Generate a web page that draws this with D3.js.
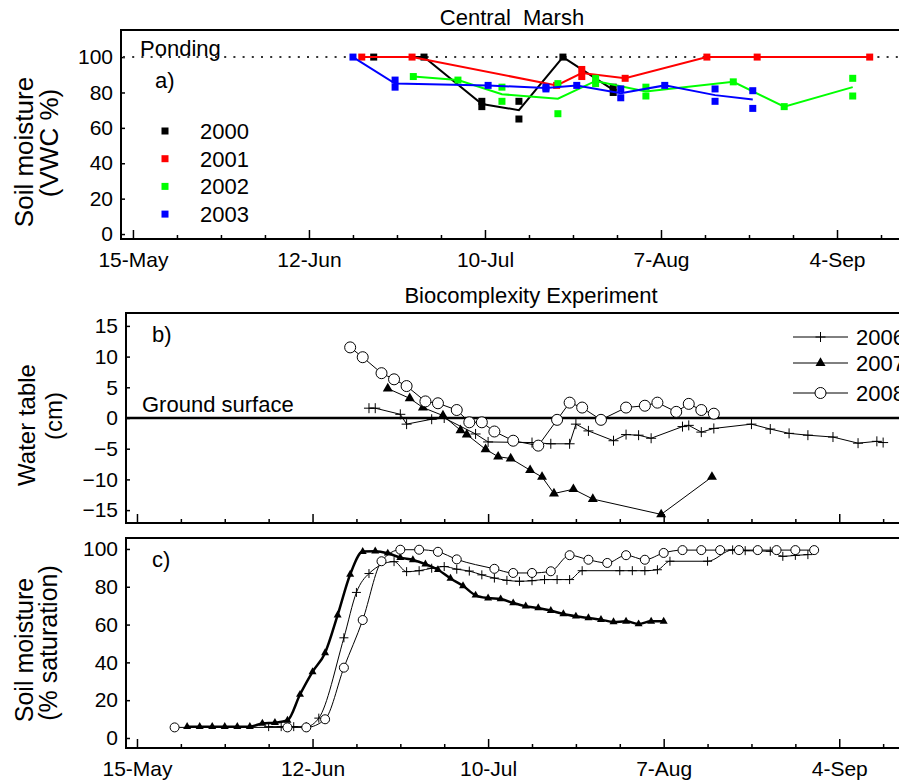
<!DOCTYPE html>
<html>
<head>
<meta charset="utf-8">
<script src="https://cdn.jsdelivr.net/npm/d3@7"></script>
<style>
    body { margin: 0; overflow: hidden; background: #fff; }
    svg { display: block; font-family: "Liberation Sans", Arial, sans-serif; }
</style>
</head>
<body>
<div id="chart"></div>
<script>
// days counted from 15-May
var xTickDays = [0, 28, 56, 84, 112];
var xTickLabels = ['15-May', '12-Jun', '10-Jul', '7-Aug', '4-Sep'];
var minorTickDays = [7, 14, 21, 35, 42, 49, 63, 70, 77, 91, 98, 105, 119];

// a) Central Marsh, soil moisture (VWC %), [day, value], replicates share a day
var years_a = ['2000', '2001', '2002', '2003'];
var colors_a = ['#000000', '#ff0000', '#00ff00', '#0000ff'];
var vwc2000 = [[38.3,100],[46.3,100],[55.5,75],[55.5,72],[61.4,75],[61.4,65],[68.4,100],[76.4,83],[76.4,80]];
var vwc2001 = [[36.4,100],[44.4,100],[67.4,84],[71.4,93],[71.4,89],[78.3,88],[91.3,100],[99.3,100],[117.2,100]];
var vwc2002 = [[44.6,89],[51.7,87],[58.7,83],[58.7,75],[67.6,85],[67.6,68],[73.6,88],[73.6,85],[81.6,83],[81.6,78],
               [95.5,86],[103.6,72],[114.5,88],[114.5,78]];
var vwc2003 = [[35,100],[41.7,87],[41.7,83],[56.5,84],[65.7,83],[65.7,82],[70.6,84],[77.6,82],[77.6,77],[84.6,84],
               [92.6,82],[92.6,75],[98.6,81],[98.6,71]];
var yTicks_a = [0, 20, 40, 60, 80, 100];

// b) Biocomplexity experiment, water table (cm)
var years_bc = ['2006', '2007', '2008'];
var wt2006 = [[37,1.6],[38,1.6],[42,0.6],[43,-1.0],[47,-0.2],[49,0.0],[54,-2.6],[56,-3.9],[63,-4.0],[66,-4.2],[69,-4.2],
              [70,-1.0],[72,-2.1],[76,-3.7],[78,-2.7],[80,-2.8],[82,-3.3],[87,-1.4],[88,-1.2],[90,-2.3],[92,-1.7],
              [98,-1.0],[101,-1.8],[104,-2.5],[107,-2.8],[111,-3.1],[115,-4.1],[118,-3.8],[119,-4.0]];
var wt2007 = [[40,4.8],[43.5,3.2],[45.6,1.7],[48.8,0.4],[51.6,-2.0],[52.6,-2.7],[55.6,-5.1],[57.6,-6.3],[59.6,-6.6],
              [62.7,-8.5],[64.6,-9.6],[66.5,-12.3],[69.6,-11.6],[72.7,-13.2],[83.6,-15.7],[91.7,-9.6]];
var wt2008 = [[34,11.5],[36,9.9],[39,7.3],[41,6.3],[43,5.2],[46,2.7],[48,2.4],[51,1.3],[53,-0.7],[55,-0.7],[57,-2.2],
              [60,-3.7],[64,-4.5],[67,-0.3],[69,2.5],[71,1.7],[74,-0.3],[78,1.7],[81,2.0],[83,2.5],[86,1.0],[88,2.3],
              [90,1.3],[92,0.7]];
var yTicks_b = [-15, -10, -5, 0, 5, 10, 15];

// c) soil moisture (% saturation)
var sm2006 = [[21,6],[23,6],[25,6],[27,6],[29,10.5],[33,53],[35,77],[37,87],[41,93.3],[43,88],[45,88.5],[47,89.8],
              [49,90.7],[51,89.3],[53,88.3],[55,86.3],[57,84.6],[59,83.4],[61,82.9],[63,83.2],[65,83.8],[67,83.8],
              [69,83.8],[71,88.5],[77,88.5],[79,88.5],[81,88.5],[83,89],[85,93.5],[91,93.5],[95,99.5],[97,99.1],
              [101,98.8],[103,96.1],[105,96.6],[107,97]];
var sm2007 = [[8,6],[10,6],[12,6],[14,6],[16,6],[18,6],[20,7.7],[22,8.1],[24,9.3],[26,23],[28,35],[30,45],[32,65],
              [34,86.5],[36,98.6],[38,98.8],[40,97.7],[42,95.4],[44,94.2],[46,92],[48,89],[50,84.4],[52,80.5],
              [54,75.5],[56,74],[58,73.5],[60,71.4],[62,69.7],[64,68.8],[66,67.4],[68,65.6],[70,64.4],[72,63.5],
              [74,62.6],[76,61.4],[78,61.7],[80,60.3],[82,61.7],[84,61.7]];
var sm2008 = [[6,5.6],[24,5.6],[27,5.6],[30,9.9],[33,37.2],[36,62.4],[39,93.5],[42,99.6],[45,99.6],[48,98.5],
              [51,94.5],[57,89.5],[60,87.3],[63,87.3],[66,88.2],[69,96.7],[72,94.3],[75,92.6],[78,96.7],[81,94.3],
              [84,97.9],[87,99.4],[90,99.4],[93,99.4],[96,99.4],[99,99.4],[102,99.4],[105,99.4],[108,99.4]];
var yTicks_c = [0, 20, 40, 60, 80, 100];

var svgWidth = 940, svgHeight = 780;
var startMs = Date.UTC(2006, 4, 15);
function dayDate(d) { return new Date(startMs + d * 864e5); }

var svg = d3.select('#chart').append('svg')
    .attr('width', svgWidth)
    .attr('height', svgHeight);

function drawFrame(x, y, opts) {
    var g = svg.append('g');
    var left = x.range()[0], top = y.range()[1], bottom = y.range()[0];

    // minor and major ticks point inward
    g.append('g')
        .attr('transform', 'translate(0,' + bottom + ')')
        .call(d3.axisBottom(x).tickValues(minorTickDays.map(dayDate)).tickSize(-4).tickFormat(''))
        .call(function (a) { a.select('.domain').remove(); })
        .selectAll('line').attr('stroke-width', 1.5);

    var major = g.append('g')
        .attr('transform', 'translate(0,' + bottom + ')')
        .call(d3.axisBottom(x).tickValues(xTickDays.map(dayDate)).tickSize(-9).tickPadding(13)
            .tickFormat(function (d, i) { return opts.xLabels ? xTickLabels[i] : ''; }))
        .call(function (a) { a.select('.domain').remove(); });
    major.selectAll('line').attr('stroke-width', 1.5);
    major.selectAll('text').attr('font-size', 21).attr('fill', '#000').attr('font-family', null);

    var yax = g.append('g')
        .attr('transform', 'translate(' + left + ',0)')
        .call(d3.axisLeft(y).tickValues(opts.yTicks).tickSize(-4).tickPadding(8))
        .call(function (a) { a.select('.domain').remove(); });
    yax.selectAll('line').attr('stroke-width', 1.5);
    yax.selectAll('text').attr('font-size', 21).attr('fill', '#000').attr('font-family', null);

    g.append('line').attr('x1', left).attr('x2', left).attr('y1', top - 1).attr('y2', bottom + 1)
        .attr('stroke', '#000').attr('stroke-width', 2);
    g.append('line').attr('x1', left).attr('x2', svgWidth).attr('y1', bottom).attr('y2', bottom)
        .attr('stroke', '#000').attr('stroke-width', 2);
    g.append('line').attr('x1', left).attr('x2', svgWidth).attr('y1', top).attr('y2', top)
        .attr('stroke', '#000').attr('stroke-width', 2);
}

function yLabel(lines, cx, cy, size) {
    lines.forEach(function (l, i) {
        svg.append('text')
            .attr('transform', 'translate(' + l.x + ',' + l.cy + ') rotate(-90)')
            .attr('text-anchor', 'middle')
            .attr('font-size', size)
            .text(l.text);
    });
}

function addText(txt, x, y, size, anchor) {
    svg.append('text').attr('x', x).attr('y', y)
        .attr('font-size', size)
        .attr('text-anchor', anchor || 'start')
        .style('white-space', 'pre')
        .text(txt);
}

// ---------- panel a ----------
var xA = d3.scaleUtc().domain([dayDate(-1.9), dayDate(127)]).range([121, 931.3]);
var yA = d3.scaleLinear().domain([-2.8, 115.3]).range([239, 30]);

drawFrame(xA, yA, { yTicks: yTicks_a, xLabels: true });

svg.append('line')
    .attr('x1', 123).attr('x2', svgWidth)
    .attr('y1', yA(100)).attr('y2', yA(100))
    .attr('stroke', '#333').attr('stroke-width', 2)
    .attr('stroke-dasharray', '2,7.2');

var lineA = d3.line().x(function (d) { return xA(dayDate(d[0])); }).y(function (d) { return yA(d[1]); });

[vwc2000, vwc2001, vwc2002, vwc2003].forEach(function (series, i) {
    var means = d3.rollups(series, function (v) { return d3.mean(v, function (d) { return d[1]; }); },
        function (d) { return d[0]; }).sort(function (a, b) { return a[0] - b[0]; });
    svg.append('path').datum(means)
        .attr('d', lineA)
        .attr('fill', 'none')
        .attr('stroke', colors_a[i])
        .attr('stroke-width', 2);
    svg.append('g').selectAll('rect')
        .data(series)
        .enter().append('rect')
            .attr('x', function (d) { return xA(dayDate(d[0])) - 3.5; })
            .attr('y', function (d) { return yA(d[1]) - 3.5; })
            .attr('width', 7)
            .attr('height', 7)
            .attr('fill', colors_a[i]);
});

var legA = svg.append('g').selectAll('g')
    .data(years_a)
    .enter().append('g')
        .attr('transform', function (d, i) { return 'translate(165,' + (131 + i * 27.7) + ')'; });
legA.append('rect').attr('x', -3.5).attr('y', -3.5).attr('width', 7).attr('height', 7)
    .attr('fill', function (d, i) { return colors_a[i]; });
legA.append('text').attr('x', 35).attr('y', 8).attr('font-size', 22).text(function (d) { return d; });

addText('Central  Marsh', 512, 25, 22, 'middle');
addText('Ponding', 140, 56, 22);
addText('a)', 155, 88, 22);
yLabel([{ text: 'Soil moisture', x: 33, cy: 152 }, { text: '(VWC %)', x: 58, cy: 143 }], 0, 0, 26);

// ---------- panels b and c ----------
var xB = d3.scaleUtc().domain([dayDate(-1.75), dayDate(127)]).range([126, 933.3]);
var yB = d3.scaleLinear().domain([-17.1, 17.1]).range([523, 313]);
var yC = d3.scaleLinear().domain([-5.3, 105.8]).range([748, 538]);

drawFrame(xB, yB, { yTicks: yTicks_b, xLabels: false });
drawFrame(xB, yC, { yTicks: yTicks_c, xLabels: true });

svg.append('line')
    .attr('x1', 126).attr('x2', svgWidth)
    .attr('y1', yB(0)).attr('y2', yB(0))
    .attr('stroke', '#000').attr('stroke-width', 2.5);

function drawMarkers(g, data, type, sz, xs, ys) {
    var sel = g.selectAll('.m').data(data).enter();
    if (type === 'cross') {
        sel.append('path')
            .attr('d', 'M' + (-sz) + ',0H' + sz + 'M0,' + (-sz) + 'V' + sz)
            .attr('transform', function (d) { return 'translate(' + xs(d) + ',' + ys(d) + ')'; })
            .attr('stroke', '#000').attr('stroke-width', 1).attr('fill', 'none');
    } else if (type === 'triangle') {
        var area = Math.sqrt(3) / 4 * (2 * sz) * (2 * sz);
        sel.append('path')
            .attr('d', d3.symbol(d3.symbolTriangle, area))
            .attr('transform', function (d) { return 'translate(' + xs(d) + ',' + ys(d) + ')'; })
            .attr('fill', '#000');
    } else {
        sel.append('circle')
            .attr('cx', xs).attr('cy', ys).attr('r', sz)
            .attr('fill', '#fff').attr('stroke', '#000').attr('stroke-width', 1);
    }
}

var markerTypes = ['cross', 'triangle', 'circle'];

function drawSeries(data, type, sz, yScale, width, curve) {
    var xs = function (d) { return xB(dayDate(d[0])); };
    var ys = function (d) { return yScale(d[1]); };
    var g = svg.append('g');
    g.append('path').datum(data)
        .attr('d', d3.line().x(xs).y(ys).curve(curve))
        .attr('fill', 'none').attr('stroke', '#000').attr('stroke-width', width)
        .attr('stroke-linejoin', 'round');
    drawMarkers(g, data, type, sz, xs, ys);
}

drawSeries(wt2006, 'cross', 5, yB, 1, d3.curveLinear);
drawSeries(wt2007, 'triangle', 5, yB, 1, d3.curveLinear);
drawSeries(wt2008, 'circle', 5.5, yB, 1, d3.curveLinear);

drawSeries(sm2006, 'cross', 4.5, yC, 1, d3.curveMonotoneX);
drawSeries(sm2007, 'triangle', 4, yC, 2.5, d3.curveMonotoneX);
drawSeries(sm2008, 'circle', 4.5, yC, 1, d3.curveMonotoneX);

var legB = svg.append('g').selectAll('g')
    .data(years_bc)
    .enter().append('g')
        .attr('transform', function (d, i) { return 'translate(0,' + [337, 363, 393][i] + ')'; });
legB.append('line').attr('x1', 793).attr('x2', 848).attr('stroke', '#000').attr('stroke-width', 1);
legB.each(function (d, i) {
    drawMarkers(d3.select(this), [0], markerTypes[i], i === 2 ? 5.5 : 5,
        function () { return 820.5; }, function () { return 0; });
});
legB.append('text').attr('x', 856).attr('y', 8).attr('font-size', 22).text(function (d) { return d; });

addText('Biocomplexity Experiment', 531, 303, 22, 'middle');
addText('b)', 152, 342, 22);
addText('Ground surface', 142, 412, 22);
addText('c)', 152, 567, 22);
yLabel([{ text: 'Water  table', x: 35, cy: 425 }, { text: '(cm)', x: 62, cy: 416 }], 0, 0, 24);
yLabel([{ text: 'Soil  moisture', x: 33, cy: 650 }, { text: '(% saturation)', x: 57, cy: 643 }], 0, 0, 25);
</script>
</body>
</html>
